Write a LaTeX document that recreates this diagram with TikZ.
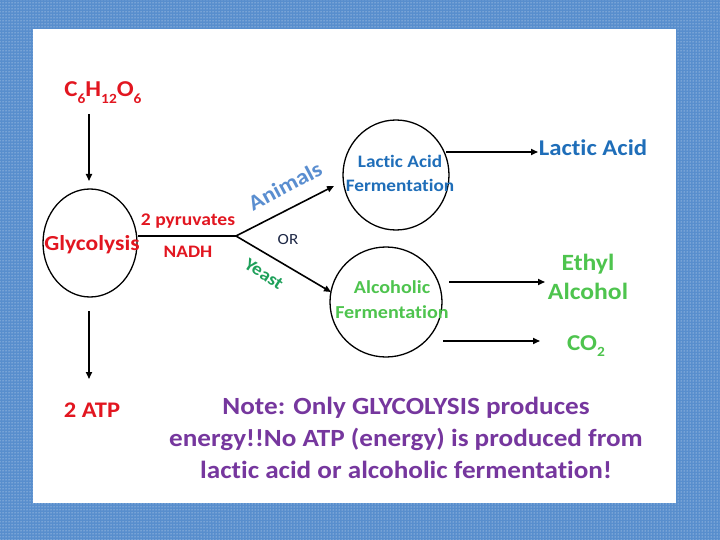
\documentclass[tikz,border=0pt]{standalone}
\usepackage{fontspec}
\setmainfont{Carlito}[FakeStretch=1.1, Ligatures=NoCommon]
\usetikzlibrary{shapes.geometric,arrows.meta,patterns}
\definecolor{bgblue}{RGB}{88,142,205}
\definecolor{tred}{RGB}{226,22,32}
\definecolor{tblue}{RGB}{31,110,185}
\definecolor{anblue}{RGB}{90,142,208}
\definecolor{tgreen}{RGB}{78,196,78}
\definecolor{ygreen}{RGB}{30,160,90}
\definecolor{tpurple}{RGB}{118,55,158}
\definecolor{ornavy}{RGB}{30,40,70}
\newcommand\mysub[1]{\raisebox{-0.3em}{\fontsize{14}{14}\selectfont #1}}
\tikzset{
  conn/.style={line width=1.6pt, black},
  arr/.style={conn, -{Triangle[length=7pt,width=6pt]}},
  circ/.style={draw=black, line width=1.3pt, ellipse, inner sep=0pt},
  lbl/.style={inner sep=0pt, font=\bfseries},
}
\begin{document}
\begin{tikzpicture}[x=1pt,y=-1pt]
\useasboundingbox (0,0) rectangle (720,540);
\fill[bgblue] (0,0) rectangle (720,540);
\fill[pattern=dots, pattern color=white!85!bgblue] (0,0) rectangle (720,540);
\fill[white] (33,29) rectangle (676,503);

% nodes
\node[lbl, text=tred, font=\bfseries\fontsize{22.7}{26}\selectfont] (glu) at (103,93) {C\mysub{6}H\mysub{12}O\mysub{6}};
\node[circ, minimum width=94pt, minimum height=108pt] (gly) at (90,243) {};
\node[lbl, text=tred, font=\bfseries\fontsize{21.4}{24}\selectfont] (glyt) at (92,245) {Glycolysis};
\node[lbl, text=tred, font=\bfseries\fontsize{17.8}{20}\selectfont] (pyr) at (188,221) {2 pyruvates};
\node[lbl, text=tred, font=\bfseries\fontsize{17.5}{20}\selectfont] (nadh) at (188,252) {NADH};
\node[lbl, text=tred, font=\bfseries\fontsize{22.3}{26}\selectfont] (atp) at (92,410) {2 ATP};

\node[circ, minimum width=106pt, minimum height=110pt] (laf) at (396,175) {};
\node[lbl, text=tblue, align=center, font=\bfseries\fontsize{17.5}{24}\selectfont] (laft) at (400,173) {Lactic Acid\\Fermentation};
\node[lbl, text=tblue, font=\bfseries\fontsize{22.5}{26}\selectfont] (la) at (593,148) {Lactic Acid};

\node[circ, minimum width=112pt, minimum height=110pt] (alf) at (386,302) {};
\node[lbl, text=tgreen, align=center, font=\bfseries\fontsize{18.3}{25}\selectfont] (alft) at (392,300) {Alcoholic\\Fermentation};
\node[lbl, text=tgreen, align=center, font=\bfseries\fontsize{23.3}{29}\selectfont] (eth) at (588,277) {Ethyl\\Alcohol};
\node[lbl, text=tgreen, font=\bfseries\fontsize{22.7}{26}\selectfont] (co2) at (586,346) {CO\mysub{2}};

\node[lbl, text=anblue, rotate=28, font=\bfseries\fontsize{21.8}{24}\selectfont] (anim) at (285,186) {Animals};
\node[lbl, text=ygreen, rotate=-33, font=\bfseries\fontsize{17.7}{20}\selectfont] (yeast) at (264,274) {Yeast};
\node[inner sep=0pt, text=ornavy, font=\fontsize{15.5}{18}\selectfont] (or) at (288,240) {OR};

\node[lbl, text=tpurple, align=center, font=\bfseries\fontsize{24.7}{32}\selectfont] (note) at (406,438) {Note: Only GLYCOLYSIS produces\\energy!!No ATP (energy) is produced from\\lactic acid or alcoholic fermentation!};

% connector end points
\coordinate (j) at (236,236);
\coordinate (c1s) at (89,114);
\coordinate (c1e) at (89,181);
\coordinate (c2s) at (89,311);
\coordinate (c2e) at (89,379);
\coordinate (ta) at (334,186);
\coordinate (ty) at (331,292);
\coordinate (l1s) at (446,152);
\coordinate (l1e) at (538,152);
\coordinate (e1s) at (449,282);
\coordinate (e1e) at (545,282);
\coordinate (e2s) at (443,341);
\coordinate (e2e) at (540,341);

% connectors
\draw[arr] (c1s) -- (c1e);
\draw[arr] (c2s) -- (c2e);
\draw[conn] (gly.east |- j) -- (j);
\draw[arr] (j) -- (ta);
\draw[arr] (j) -- (ty);
\draw[arr] (l1s) -- (l1e);
\draw[arr] (e1s) -- (e1e);
\draw[arr] (e2s) -- (e2e);
\end{tikzpicture}
\end{document}
